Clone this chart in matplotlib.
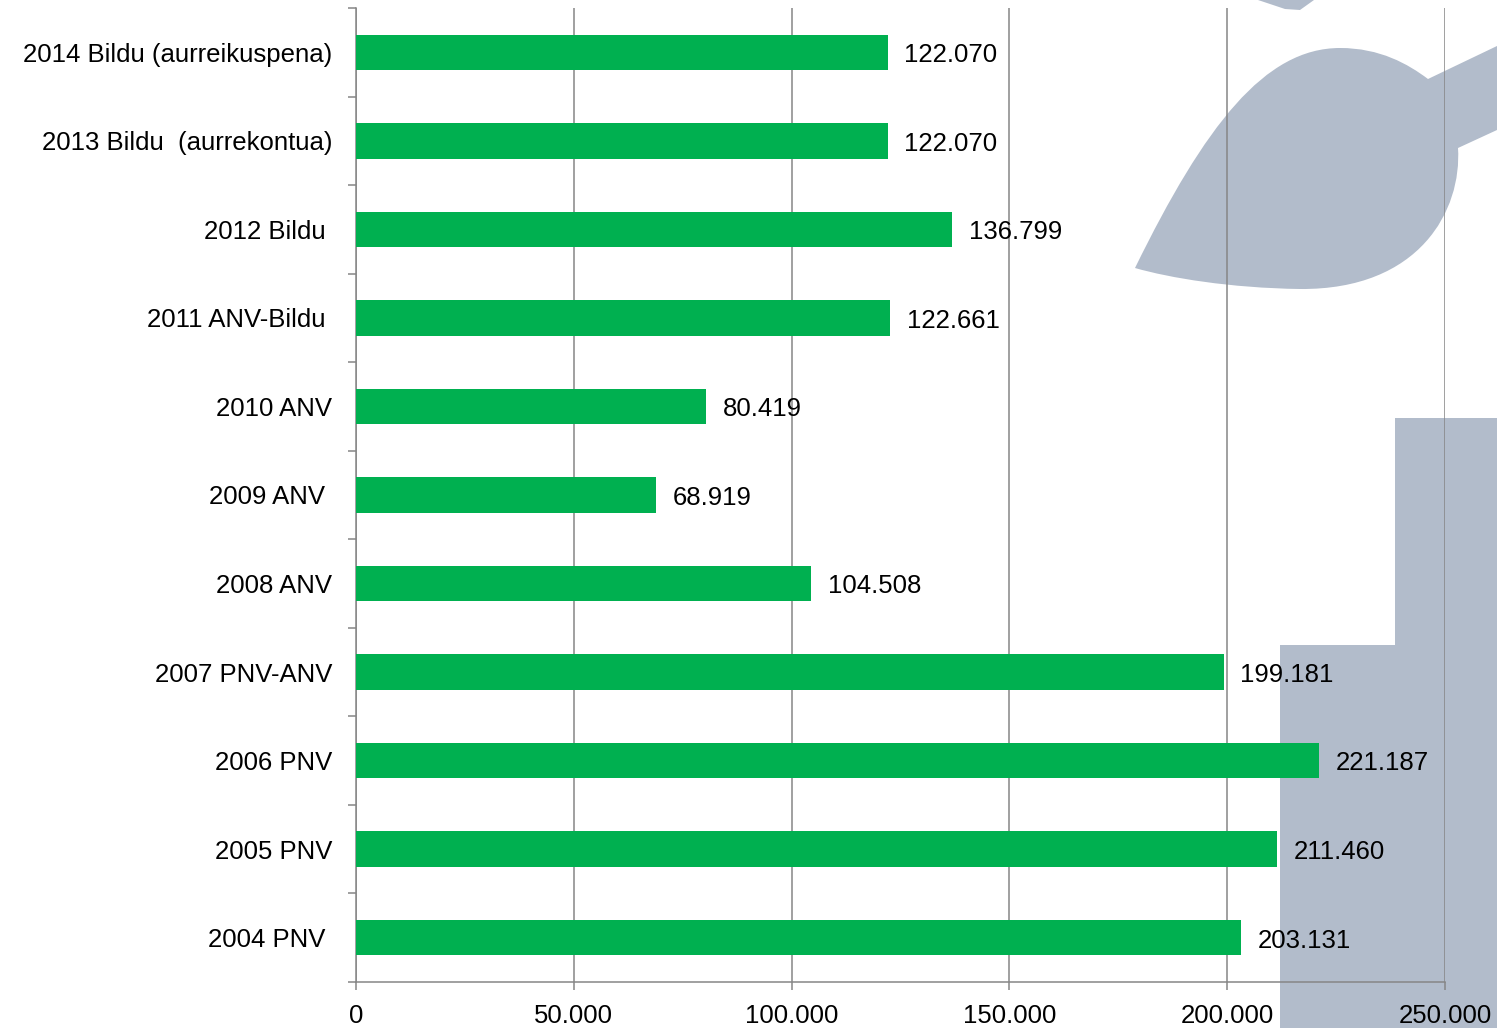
import matplotlib.pyplot as plt
from matplotlib.path import Path
from matplotlib.patches import PathPatch, Polygon
from matplotlib.transforms import Affine2D

plt.rcParams['font.family'] = ['Liberation Sans', 'DejaVu Sans']

# data, top to bottom
labels = ["2014 Bildu (aurreikuspena)", "2013 Bildu  (aurrekontua)", "2012 Bildu ",
          "2011 ANV-Bildu ", "2010 ANV", "2009 ANV ", "2008 ANV", "2007 PNV-ANV",
          "2006 PNV", "2005 PNV", "2004 PNV "]
values = [122070, 122070, 136799, 122661, 80419, 68919, 104508, 199181,
          221187, 211460, 203131]
xticks = [0, 50000, 100000, 150000, 200000, 250000]

W, H = 1497, 1028
fig = plt.figure(figsize=(W / 100, H / 100), dpi=100)
ax = fig.add_axes([356 / W, 1 - 982 / H, (1445 - 356) / W, (982 - 8) / H])
ax.set_zorder(2)
ax.patch.set_visible(False)

# background logo shapes (pixel coords, y down)
px = Affine2D().scale(1 / W, -1 / H).translate(0, 1) + fig.transFigure
shape_col = '#b2bccb'
leaf = [
    (Path.MOVETO, (1135, 268)),
    (Path.CURVE4, (1205, 125)), (Path.CURVE4, (1265, 48)), (Path.CURVE4, (1340, 48)),
    (Path.CURVE4, (1380, 48)), (Path.CURVE4, (1408, 64)), (Path.CURVE4, (1428, 79)),
    (Path.LINETO, (1497, 46)),
    (Path.LINETO, (1497, 130)),
    (Path.LINETO, (1458, 148)),
    (Path.CURVE4, (1462, 210)), (Path.CURVE4, (1420, 290)), (Path.CURVE4, (1300, 289)),
    (Path.CURVE4, (1230, 288)), (Path.CURVE4, (1170, 278)), (Path.CURVE4, (1135, 268)),
    (Path.CLOSEPOLY, (1135, 268)),
]
codes, verts = zip(*leaf)
fig.patches.append(PathPatch(Path(verts, codes), transform=px, facecolor=shape_col,
                             edgecolor='none', zorder=0))
fig.patches.append(Polygon([(1258, 0), (1285, 9), (1300, 10), (1314, 0)], closed=True,
                           transform=px, facecolor=shape_col, edgecolor='none', zorder=0))
fig.patches.append(Polygon([(1395, 418), (1497, 418), (1497, 1028), (1280, 1028),
                            (1280, 645), (1395, 645)], closed=True,
                           transform=px, facecolor=shape_col, edgecolor='none', zorder=0))

y = list(range(len(labels)))
ax.barh(y, values, height=0.4, color='#00b050', zorder=3)

for yi, v in zip(y, values):
    ax.annotate(f"{v:,}".replace(",", "."), (v, yi), xytext=(12, -2),
                textcoords='offset points', va='center', ha='left', fontsize=18.5,
                zorder=4)

ax.set_xlim(0, 250000)
ax.set_ylim(len(labels) - 0.5, -0.5)
ax.set_xticks(xticks)
ax.set_xticklabels([f"{t:,}".replace(",", ".") for t in xticks], fontsize=18.5)
ax.set_yticks(y)
ax.set_yticklabels(labels, fontsize=18.5)
ax.set_yticks([i - 0.5 for i in range(len(labels) + 1)], minor=True)

grey = '#868686'
ax.tick_params(axis='y', which='major', length=0, pad=17)
ax.tick_params(axis='y', which='minor', length=6, width=1.1, color=grey)
ax.tick_params(axis='x', length=6, width=1.1, color=grey, pad=10)
ax.grid(axis='x', color=grey, linewidth=1.1, zorder=1)
ax.set_axisbelow(True)
for s in ['top', 'right']:
    ax.spines[s].set_visible(False)
for s in ['left', 'bottom']:
    ax.spines[s].set_color(grey)
    ax.spines[s].set_linewidth(1.1)

fig.savefig('out.png', dpi=100)
